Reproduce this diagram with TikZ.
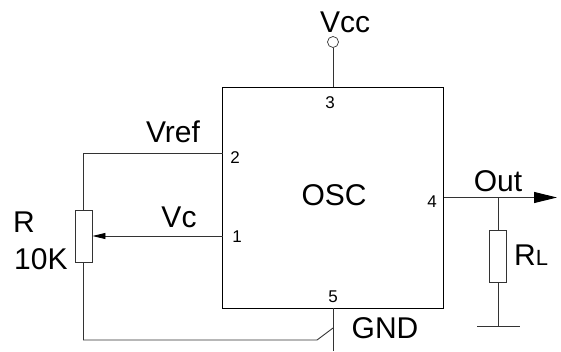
\documentclass[tikz,border=0pt]{standalone}
\usepackage{fontspec}
\setmainfont{Liberation Sans}
\usetikzlibrary{arrows.meta}

\tikzset{
    wire/.style={line width=0.9pt, draw=black!80},
    part/.style={draw=black!80, line width=0.9pt, fill=white, inner sep=0pt, minimum width=17pt, minimum height=52pt},
    bigtext/.style={inner sep=0pt, anchor=base, font=\fontsize{30}{30}\selectfont},
    pintext/.style={inner sep=0pt, anchor=base, font=\fontsize{17}{17}\selectfont},
}

\begin{document}
\begin{tikzpicture}[x=1pt, y=-1pt]
    \useasboundingbox (0,0) rectangle (561,351);
    \node[draw=black, line width=0.9pt, inner sep=0pt, minimum width=221pt, minimum height=221pt] (osc) at (333,197.7) {};
    \node[part] (pot) at (83.5,236) {};
    \node[part] (rl) at (498,256) {};
    \node[draw=black!80, line width=0.7pt, circle, inner sep=0pt, minimum size=11pt] (vcc) at (333,42) {};

    \coordinate (pin2) at (222.5,153.5);
    \coordinate (pin1) at (222.5,236);
    \coordinate (pin3) at (333,87.2);
    \coordinate (pin4) at (443.5,197.5);
    \coordinate (pin5) at (333,308.2);
    \coordinate (corner2) at (83.5,153.5);
    \coordinate (corner5) at (83.5,340);
    \coordinate (bend) at (317,340);
    \coordinate (tap) at (333,328);
    \coordinate (gndend) at (333,351);
    \coordinate (dot) at (498,197.5);
    \coordinate (outend) at (557,197.5);
    \coordinate (earth) at (498,326.5);
    \coordinate (earthl) at (477,326.5);
    \coordinate (earthr) at (520,326.5);

    \draw[wire] (vcc) -- (pin3);
    \draw[wire] (pin2) -- (corner2) -- (pot.north);
    \draw[wire] (pot.south) -- (corner5) -- (bend) -- (tap);
    \draw[wire] (pin5) -- (gndend);
    \draw[wire, -{Triangle[length=13pt, width=6pt, color=black]}] (pin1) -- (pot.east);
    \draw[wire, -{Triangle[length=23pt, width=11pt, color=black]}] (pin4) -- (outend);
    \draw[wire] (dot) -- (rl.north);
    \draw[wire] (rl.south) -- (earth);
    \draw[wire] (earthl) -- (earthr);

    \foreach \pinname/\pinx/\piny/\pinlabel in {a/235/163/2, b/237/242/1, c/330/108/3, d/432/207/4, e/333/302/5}{
        \node[pintext] (pin\pinname) at (\pinx,\piny) {\pinlabel};
    }
    \node[bigtext] (vcclabel) at (345,32) {Vcc};
    \node[bigtext] (vreflabel) at (173,142.7) {Vref};
    \node[bigtext] (vclabel) at (179,227) {Vc};
    \node[bigtext] (osclabel) at (334,205) {OSC};
    \node[bigtext] (outlabel) at (498,191) {Out};
    \node[bigtext] (gndlabel) at (385,338) {GND};
    \node[bigtext, anchor=base west] (rlabel) at (13,232.7) {R};
    \node[bigtext, anchor=base west] (potlabel) at (14,269) {10K};
    \node[bigtext, anchor=base west] (rllabel) at (514,265) {R{\fontsize{22}{22}\selectfont L}};
\end{tikzpicture}
\end{document}
